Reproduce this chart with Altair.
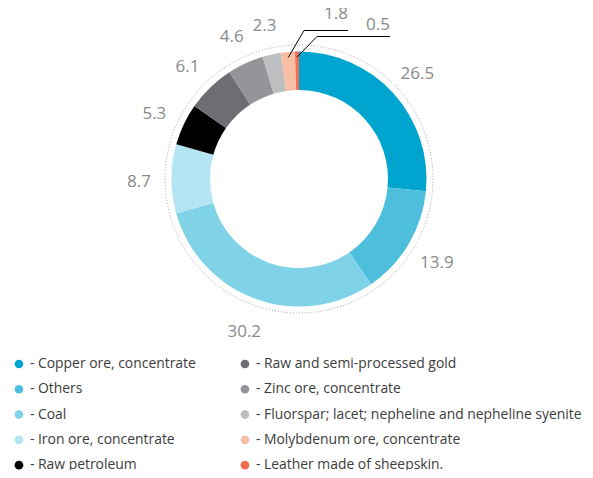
import math
import altair as alt
import pandas as pd

# ---- data ----
categories = [
    "Copper ore, concentrate",
    "Others",
    "Coal",
    "Iron ore, concentrate",
    "Raw petroleum",
    "Raw and semi-processed gold",
    "Zinc ore, concentrate",
    "Fluorspar; lacet; nepheline and nepheline syenite",
    "Molybdenum ore, concentrate",
    "Leather made of sheepskin.",
]
values = [26.5, 13.9, 30.2, 8.7, 5.3, 6.1, 4.6, 2.3, 1.8, 0.5]
colors = ["#00a5cf", "#4dbfdc", "#80d3e7", "#b3e5f2", "#000000",
          "#6d6e71", "#939598", "#bcbec0", "#f9bea6", "#f26c50"]
leader_cats = ["Molybdenum ore, concentrate", "Leather made of sheepskin."]

# ---- layout constants (pixels inside the view) ----
W, H = 577, 462
CX, CY = 291, 171
R_OUT, R_IN = 127.5, 89
FONT = "Open Sans"

df = pd.DataFrame({"cat": categories, "value": values, "idx": range(len(values))})
df["lbl"] = [("" if c in leader_cats else f"{v:.1f}") for c, v in zip(categories, values)]

# leader lines for the two thinnest slices
total = sum(values)
cum = 0.0
mids = {}
for c, v in zip(categories, values):
    mids[c] = (cum + v / 2) / total * 2 * math.pi
    cum += v
elbows = {leader_cats[0]: (296, 22.5), leader_cats[1]: (309, 28.5)}
ends = {leader_cats[0]: 340, leader_cats[1]: 382}
text_gap = {leader_cats[0]: 7.5, leader_cats[1]: 2.5}
rows = []
txt_rows = []
for c in leader_cats:
    a = mids[c]
    sx, sy = CX + 122 * math.sin(a), CY - 122 * math.cos(a)
    ex, ey = elbows[c]
    rows += [
        {"cat": c, "o": 0, "x": sx, "y": sy},
        {"cat": c, "o": 1, "x": ex, "y": ey},
        {"cat": c, "o": 2, "x": ends[c], "y": ey},
    ]
    txt_rows.append({"x": ends[c], "y": ey - text_gap[c],
                     "t": f"{values[categories.index(c)]:.1f}"})
lead = pd.DataFrame(rows)
lead_txt = pd.DataFrame(txt_rows)

xs = alt.Scale(domain=[0, W], nice=False, zero=False)
ys = alt.Scale(domain=[H, 0], nice=False, zero=False)

color = alt.Color(
    "cat:N",
    scale=alt.Scale(domain=categories, range=colors),
    sort=categories,
    legend=alt.Legend(
        title=None, orient="none", legendX=4, legendY=349,
        columns=2, direction="vertical", symbolType="circle", symbolSize=75,
        labelFont=FONT, labelFontSize=13.9, labelColor="#3c3c3c",
        labelExpr="'- ' + datum.label", rowPadding=10.3, columnPadding=42,
        labelLimit=400, padding=0, symbolStrokeWidth=0,
    ),
)

ring = alt.Chart(df).mark_arc(stroke=None, innerRadius=R_IN, outerRadius=R_OUT).encode(
    theta=alt.Theta("value:Q", stack=True),
    order=alt.Order("idx:Q"),
    color=color,
    x=alt.value(CX), y=alt.value(CY),
)

dotted = alt.Chart(pd.DataFrame({"k": [0]})).mark_arc(
    theta=0, theta2=2 * math.pi, innerRadius=0, outerRadius=134,
    fill=None, fillOpacity=0, stroke="#8c8c8c", strokeWidth=0.8, strokeDash=[1, 2],
).encode(x=alt.value(CX), y=alt.value(CY))

labels = alt.Chart(df).mark_text(
    radius=160, dy=3, font=FONT, fontSize=17, color="#8a8a8a", align="center", baseline="middle",
).encode(
    theta=alt.Theta("value:Q", stack=True),
    order=alt.Order("idx:Q"),
    text="lbl:N",
    x=alt.value(CX), y=alt.value(CY),
)

lines = alt.Chart(lead).mark_line(color="#000000", strokeWidth=1).encode(
    x=alt.X("x:Q", scale=xs, axis=None),
    y=alt.Y("y:Q", scale=ys, axis=None),
    detail="cat:N",
    order="o:Q",
)

lead_labels = alt.Chart(lead_txt).mark_text(
    font=FONT, fontSize=17, color="#8a8a8a", align="right", baseline="bottom",
).encode(
    x=alt.X("x:Q", scale=xs, axis=None),
    y=alt.Y("y:Q", scale=ys, axis=None),
    text="t:N",
)

chart = alt.layer(dotted, ring, labels, lines, lead_labels).properties(
    width=W, height=H, padding=0, autosize=alt.AutoSizeParams(type="none"),
).configure_view(stroke=None)

chart.save("out.html", embed_options={"renderer": "svg", "actions": False})
